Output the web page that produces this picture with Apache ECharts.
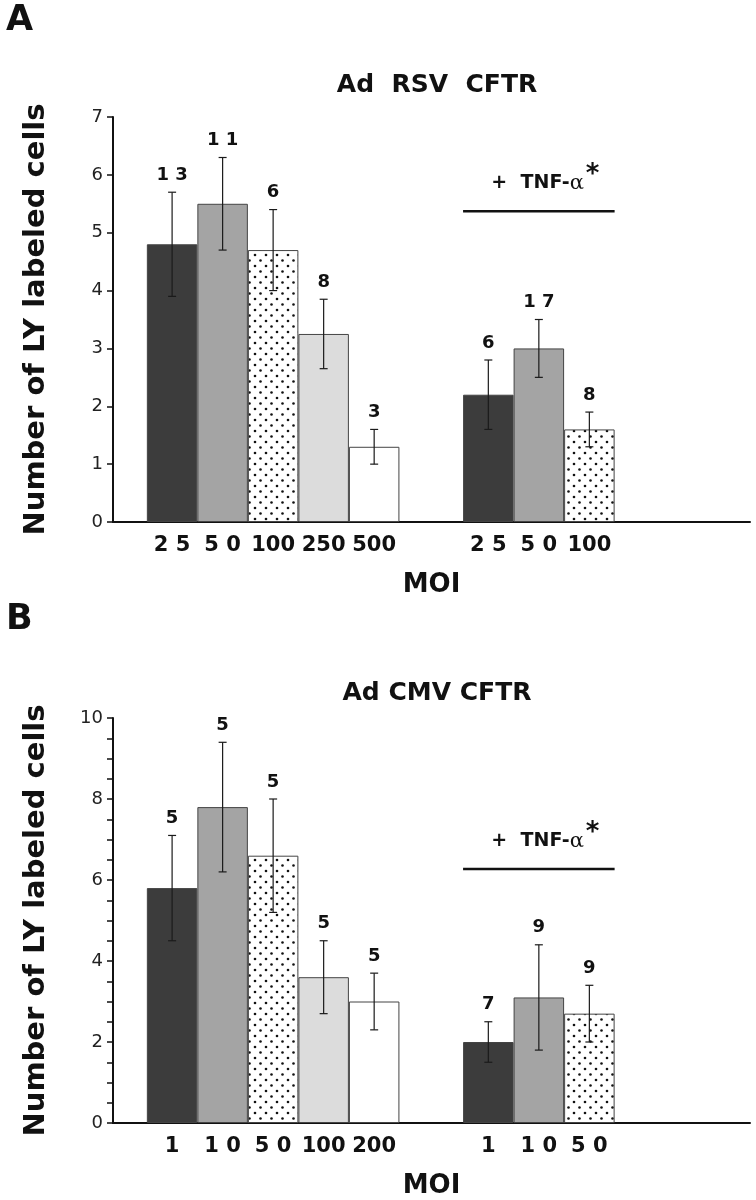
<!DOCTYPE html>
<html>
<head>
<meta charset="utf-8">
<script src="https://cdn.jsdelivr.net/npm/echarts@6/dist/echarts.min.js"></script>
<style>html,body{margin:0;padding:0;background:#fff}#chart{width:756px;height:1200px}</style>
</head>
<body>
<div id="chart"></div>
<script>
// ---------- DATA ----------
// Panel A: Ad RSV CFTR
const ticksA = ['2 5', '5 0', '100', '250', '500', '2 5', '5 0', '100'];
const meanA  = [4.8, 5.5, 4.7, 3.25, 1.3, 2.2, 3.0, 1.6];
const lowA   = [3.9, 4.7, 4.0, 2.65, 1.0, 1.6, 2.5, 1.3];
const highA  = [5.7, 6.3, 5.4, 3.85, 1.6, 2.8, 3.5, 1.9];
const nA     = ['1 3', '1 1', '6', '8', '3', '6', '1 7', '8'];
// Panel B: Ad CMV CFTR
const ticksB = ['1', '1 0', '5 0', '100', '200', '1', '1 0', '5 0'];
const meanB  = [5.8, 7.8, 6.6, 3.6, 3.0, 2.0, 3.1, 2.7];
const lowB   = [4.5, 6.2, 5.2, 2.7, 2.3, 1.5, 1.8, 2.0];
const highB  = [7.1, 9.4, 8.0, 4.5, 3.7, 2.5, 4.4, 3.4];
const nB     = ['5', '5', '5', '5', '5', '7', '9', '9'];
const fillKind = ['dark', 'gray', 'dots', 'light', 'white', 'dark', 'gray', 'dots'];

// ---------- STYLE / LAYOUT ----------
const FONT = '"DejaVu Sans", "Liberation Sans", sans-serif';
function dotPattern() {
  const c = document.createElement('canvas');
  c.width = 11; c.height = 11;
  const g = c.getContext('2d');
  g.fillStyle = '#fff'; g.fillRect(0, 0, 11, 11);
  g.fillStyle = '#111';
  g.beginPath(); g.arc(2, 2, 1.3, 0, Math.PI * 2); g.fill();
  g.beginPath(); g.arc(7.5, 7.5, 1.3, 0, Math.PI * 2); g.fill();
  return c;
}
const pattern = { image: dotPattern(), repeat: 'repeat' };
const fills = { dark: '#3c3c3c', gray: '#a4a4a4', dots: pattern, light: '#dcdcdc', white: '#ffffff' };

// bar slot positions on the x value axis (unit = one bar width)
const X_MAX = 12.61;
function slot(i) { return i < 5 ? 1.17 + i : 7.43 + (i - 5); }
const xPos = meanA.map((_, i) => slot(i));

function barData(mean) {
  return mean.map((v, i) => ({
    value: [xPos[i], v],
    itemStyle: { color: fills[fillKind[i]], borderColor: '#444', borderWidth: 1 }
  }));
}
function errData(lo, hi) { return lo.map((l, i) => [xPos[i], l, hi[i]]); }

function errSeries(gi, lo, hi, ns) {
  return {
    type: 'custom', xAxisIndex: gi, yAxisIndex: gi, clip: false, z: 5,
    data: errData(lo, hi),
    encode: { x: 0, y: [1, 2] },
    renderItem(params, api) {
      const x = api.value(0);
      const pl = api.coord([x, api.value(1)]);
      const ph = api.coord([x, api.value(2)]);
      const cap = 4;
      const st = { stroke: '#1a1a1a', lineWidth: 1.2 };
      return {
        type: 'group',
        children: [
          { type: 'line', shape: { x1: pl[0], y1: pl[1], x2: ph[0], y2: ph[1] }, style: st },
          { type: 'line', shape: { x1: ph[0] - cap, y1: ph[1], x2: ph[0] + cap, y2: ph[1] }, style: st },
          { type: 'line', shape: { x1: pl[0] - cap, y1: pl[1], x2: pl[0] + cap, y2: pl[1] }, style: st },
          { type: 'text', x: ph[0], y: ph[1] - 8,
            style: { text: ns[params.dataIndex], align: 'center', verticalAlign: 'bottom',
                     fontSize: 18, fontWeight: 'bold', fontFamily: FONT, fill: '#111' } }
        ]
      };
    }
  };
}

function tnfSeries(gi, level) {
  return {
    type: 'custom', xAxisIndex: gi, yAxisIndex: gi, clip: false, z: 6,
    data: [[slot(5) - 0.5, slot(7) + 0.5, level]],
    renderItem(params, api) {
      const a = api.coord([api.value(0), api.value(2)]);
      const b = api.coord([api.value(1), api.value(2)]);
      const cx = (a[0] + b[0]) / 2;
      return {
        type: 'group',
        children: [
          { type: 'line', shape: { x1: a[0], y1: a[1], x2: b[0], y2: b[1] }, style: { stroke: '#111', lineWidth: 2.5 } },
          { type: 'text', x: cx + 45, y: a[1] - 28,
            style: { text: '+  TNF-{a|α}', align: 'right', verticalAlign: 'middle',
                     fontSize: 19, fontWeight: 'bold', fontFamily: FONT, fill: '#111',
                     rich: { a: { fontSize: 21, fontWeight: 'normal', fontFamily: '"DejaVu Serif", serif', fill: '#111' } } } },
          { type: 'text', x: cx + 47, y: a[1] - 36,
            style: { text: '*', align: 'left', verticalAlign: 'middle',
                     fontSize: 26, fontWeight: 'bold', fontFamily: FONT, fill: '#111' } }
        ]
      };
    }
  };
}

function xAxisFor(gi, ticks) {
  return {
    type: 'value', gridIndex: gi, min: 0, max: X_MAX,
    axisLine: { show: true, onZero: false, lineStyle: { color: '#111', width: 2 } },
    axisTick: { show: false },
    splitLine: { show: false },
    axisLabel: {
      customValues: xPos,
      formatter: (v) => { const k = xPos.findIndex(p => Math.abs(p - v) < 1e-6); return k >= 0 ? ticks[k] : ''; },
      fontFamily: FONT, fontWeight: 'bold', fontSize: 21, color: '#111', margin: 13
    },
    name: 'MOI', nameLocation: 'middle', nameGap: 50,
    nameTextStyle: { fontFamily: FONT, fontWeight: 'bold', fontSize: 26, color: '#111' }
  };
}
function yAxisFor(gi, max, interval, minor) {
  return {
    type: 'value', gridIndex: gi, min: 0, max: max, interval: interval,
    axisLine: { show: true, lineStyle: { color: '#111', width: 2 } },
    axisTick: { show: true, length: 6, lineStyle: { color: '#111', width: 1.5 } },
    minorTick: { show: minor, splitNumber: 4, length: 6, lineStyle: { color: '#111', width: 1.5 } },
    splitLine: { show: false },
    axisLabel: { fontFamily: FONT, fontSize: 18, color: '#222', margin: 10 },
    name: 'Number of LY labeled cells', nameLocation: 'middle', nameRotate: 90, nameGap: 62,
    nameTextStyle: { fontFamily: FONT, fontWeight: 'bold', fontSize: 29, color: '#111' }
  };
}

const option = {
  backgroundColor: '#fff',
  animation: false,
  title: [
    { text: 'A', left: 6, top: 3, padding: 0, textStyle: { fontFamily: FONT, fontWeight: 'bold', fontSize: 35, color: '#111' } },
    { text: 'Ad  RSV  CFTR', left: 437, top: 73, padding: 0, textAlign: 'center', textStyle: { fontFamily: FONT, fontWeight: 'bold', fontSize: 25, color: '#111' } },
    { text: 'B', left: 6, top: 602, padding: 0, textStyle: { fontFamily: FONT, fontWeight: 'bold', fontSize: 35, color: '#111' } },
    { text: 'Ad CMV CFTR', left: 437, top: 681, padding: 0, textAlign: 'center', textStyle: { fontFamily: FONT, fontWeight: 'bold', fontSize: 25, color: '#111' } }
  ],
  grid: [
    { left: 113, top: 117, width: 637, height: 405 },
    { left: 113, top: 718, width: 637, height: 407 }
  ],
  xAxis: [xAxisFor(0, ticksA), xAxisFor(1, ticksB)],
  yAxis: [yAxisFor(0, 7, 1, false), yAxisFor(1, 10, 2, true)],
  series: [
    { type: 'bar', xAxisIndex: 0, yAxisIndex: 0, barWidth: 50.5, data: barData(meanA) },
    errSeries(0, lowA, highA, nA),
    tnfSeries(0, 5.37),
    { type: 'bar', xAxisIndex: 1, yAxisIndex: 1, barWidth: 50.5, data: barData(meanB) },
    errSeries(1, lowB, highB, nB),
    tnfSeries(1, 6.27)
  ]
};
const chart = echarts.init(document.getElementById('chart'), null, { renderer: 'canvas' });
chart.setOption(option);
</script>
</body>
</html>
